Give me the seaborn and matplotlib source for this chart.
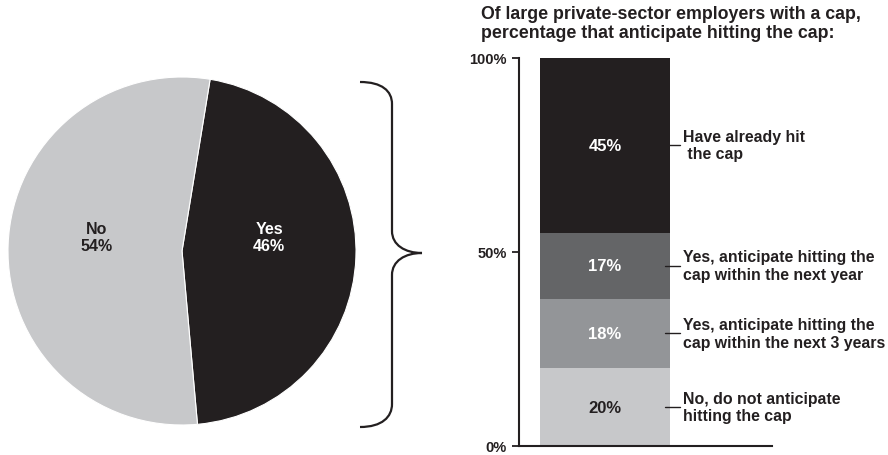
import matplotlib
matplotlib.use("Agg")
import matplotlib.pyplot as plt
import matplotlib.transforms as mtransforms
from matplotlib.path import Path
from matplotlib.patches import PathPatch
import pandas as pd
import seaborn as sns

# pie data: share of employers with a cap
pie_labels = ["Yes", "No"]
pie_values = [46, 54]

# stacked bar data (bottom to top)
seg_labels = ["No, do not anticipate\nhitting the cap",
              "Yes, anticipate hitting the\ncap within the next 3 years",
              "Yes, anticipate hitting the\ncap within the next year",
              "Have already hit\n the cap"]
seg_values = [20, 18, 17, 45]
y_ticks = [0, 50, 100]
y_ticklabels = ["0%", "50%", "100%"]
title = "Of large private-sector employers with a cap,\npercentage that anticipate hitting the cap:"

dark = "#231f20"
seg_colors = ["#c7c8ca", "#939598", "#646567", dark]
seg_text = [dark, "white", "white", "white"]

sns.set_theme(style="white")
plt.rcParams["font.family"] = ["Liberation Sans", "DejaVu Sans"]
plt.rcParams["font.weight"] = "bold"

fig = plt.figure(figsize=(8.88, 4.56), dpi=100)

# ---- pie ----
ax_pie = fig.add_axes([8 / 888, 30 / 456, 348 / 888, 348 / 456])
ax_pie.pie(pie_values, colors=[dark, "#c7c8ca"], startangle=80.7, counterclock=False,
           wedgeprops=dict(edgecolor="white", linewidth=0.8))
ax_pie.set_xlim(-1, 1)
ax_pie.set_ylim(-1, 1)
ax_pie.set_aspect("equal")
ax_pie.text(0.50, 0.08, f"{pie_labels[0]}\n{pie_values[0]}%", color="white",
            ha="center", va="center", fontsize=11.5, fontweight="bold", linespacing=1.2)
ax_pie.text(-0.49, 0.08, f"{pie_labels[1]}\n{pie_values[1]}%", color=dark,
            ha="center", va="center", fontsize=11.5, fontweight="bold", linespacing=1.2)

# ---- brace ----
pts = [(360, 83), (382, 83), (392, 92), (392, 105),
       (392, 232),
       (392, 246), (405, 254), (422, 254),
       (405, 254), (392, 262), (392, 276),
       (392, 405),
       (392, 418), (382, 428), (360, 428)]
codes = [Path.MOVETO, Path.CURVE4, Path.CURVE4, Path.CURVE4,
         Path.LINETO,
         Path.CURVE4, Path.CURVE4, Path.CURVE4,
         Path.CURVE4, Path.CURVE4, Path.CURVE4,
         Path.LINETO,
         Path.CURVE4, Path.CURVE4, Path.CURVE4]
verts = [(x / 888, 1 - y / 456) for x, y in pts]
fig.patches.append(PathPatch(Path(verts, codes), transform=fig.transFigure,
                             facecolor="none", edgecolor=dark, linewidth=1.6))

# ---- stacked bar ----
ax = fig.add_axes([519 / 888, 9 / 456, 253 / 888, 388 / 456])
cum = []
total = 0
for v in seg_values:
    total += v
    cum.append(total)
df = pd.DataFrame({"group": ["all"] * 4, "top": cum, "label": seg_labels})
# draw tallest first so shorter cumulative bars sit on top
for i in range(3, -1, -1):
    sns.barplot(data=df.iloc[[i]], x="group", y="top", color=seg_colors[i],
                saturation=1, width=0.8, ax=ax, linewidth=0)
ax.set_xlim(-0.529, 1.028)
ax.set_ylim(0, 100)
ax.set_xlabel("")
ax.set_ylabel("")
ax.set_xticks([])
ax.set_yticks(y_ticks)
ax.set_yticklabels(y_ticklabels, fontsize=10.5, fontweight="bold", color=dark)
ax.tick_params(axis="y", direction="out", length=5, width=1.3, color=dark, pad=4, left=True)
for s in ["top", "right"]:
    ax.spines[s].set_visible(False)
for s in ["left", "bottom"]:
    ax.spines[s].set_color(dark)
    ax.spines[s].set_linewidth(1.5)

trans = mtransforms.blended_transform_factory(ax.transAxes, ax.transData)
bottom = 0
for i, v in enumerate(seg_values):
    mid = bottom + v / 2
    ax.text(0, mid, f"{v}%", ha="center", va="center", color=seg_text[i],
            fontsize=12, fontweight="bold")
    ax.plot([0.577, 0.636], [mid, mid], color=dark, linewidth=1, transform=trans, clip_on=False)
    ax.text(0.648, mid, seg_labels[i], transform=trans, ha="left", va="center",
            fontsize=11.4, fontweight="bold", color=dark, linespacing=1.2)
    bottom += v

fig.text(481 / 888, 1 - 6 / 456, title, ha="left", va="top", fontsize=12.8,
         fontweight="bold", color=dark, linespacing=1.15)

fig.savefig("out.png", dpi=100)
